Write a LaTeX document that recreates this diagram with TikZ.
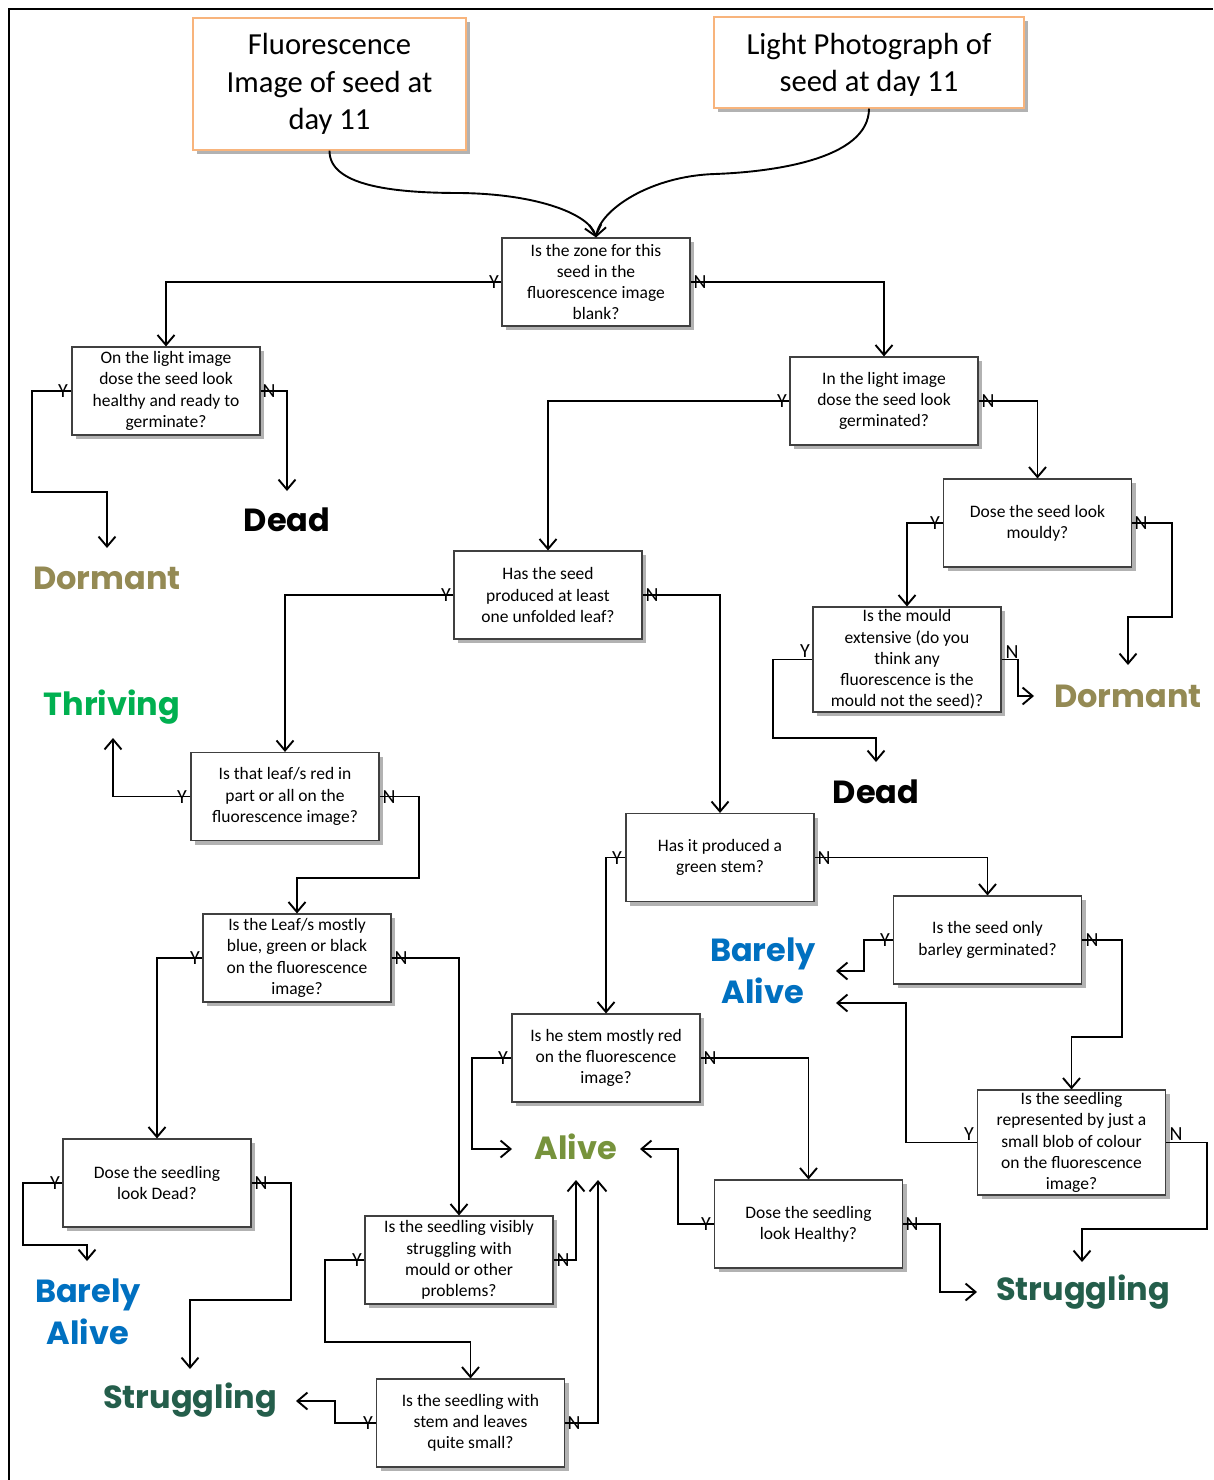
\documentclass[tikz,border=0pt]{standalone}
\usepackage{fontspec}
\setmainfont{Carlito}
\newfontfamily\outfont{Poppins}
\usetikzlibrary{arrows.meta,shadows}
\definecolor{cDorm}{HTML}{948A54}
\definecolor{cThr}{HTML}{00B050}
\definecolor{cBar}{HTML}{0070C0}
\definecolor{cAlive}{HTML}{77933C}
\definecolor{cStrug}{HTML}{245E4B}
\definecolor{cTop}{HTML}{F8B47C}
\begin{document}
\begin{tikzpicture}[x=1pt,y=-1pt,
  q/.style={draw=black!75, line width=1.1pt, fill=white, minimum width=188pt, minimum height=88pt, inner sep=0pt, align=center,
    font=\fontsize{17.5}{21.3}\selectfont,
    drop shadow={shadow xshift=4pt, shadow yshift=-4pt, opacity=0.3, fill=black}},
  topbox/.style={draw=cTop, line width=1.1pt, fill=white, inner sep=0pt, align=center,
    font=\fontsize{30.6}{37.5}\selectfont,
    drop shadow={shadow xshift=4pt, shadow yshift=-4pt, opacity=0.3, fill=black}},
  outc/.style={font=\outfont\bfseries\fontsize{32}{42}\selectfont, align=center, inner sep=0pt},
  arr/.style={line width=1.9pt, -{Straight Barb[length=10pt,width=17pt]}},
  yn/.style={font=\fontsize{20}{20}\selectfont, inner sep=0pt}
]
\useasboundingbox (0,0) rectangle (1213,1480);
\fill[white] (0,0) rectangle (1213,1480);
\draw[line width=1.8pt] (9,1480) -- (9,9) -- (1213,9);

% top boxes
\node[topbox, minimum width=273pt, minimum height=132pt] (fluor) at (329.5,84) {Fluorescence\\Image of seed at\\day 11};
\node[topbox, minimum width=310pt, minimum height=91pt] (light) at (869,62.5) {\rule{0pt}{26pt}Light Photograph of\\seed at day 11};

% question boxes
\node[q] (zone) at (596,282) {Is the zone for this\\seed in the\\fluorescence image\\blank?};
\node[q] (onl) at (166,391) {On the light image\\dose the seed look\\healthy and ready to\\germinate?};
\node[q] (inl) at (884,401) {In the light image\\dose the seed look\\germinated?};
\node[q] (mouldy) at (1037.5,523) {Dose the seed look\\mouldy?};
\node[q, minimum height=105pt] (mext) at (907,659.5) {Is the mould\\extensive (do you\\think any\\fluorescence is the\\mould not the seed)?};
\node[q] (hasseed) at (548,595) {Has the seed\\produced at least\\one unfolded leaf?};
\node[q] (leafred) at (285,796.5) {Is that leaf/s red in\\part or all on the\\fluorescence image?};
\node[q] (leafblue) at (297,958) {Is the Leaf/s mostly\\blue, green or black\\on the fluorescence\\image?};
\node[q] (stem) at (720,857.5) {Has it produced a\\green stem?};
\node[q] (barley) at (987.5,940) {Is the seed only\\barley germinated?};
\node[q] (stemred) at (606,1058) {Is he stem mostly red\\on the fluorescence\\image?};
\node[q, minimum height=105pt] (repr) at (1071.5,1142.5) {Is the seedling\\represented by just a\\small blob of colour\\on the fluorescence\\image?};
\node[q] (healthy) at (808.5,1224) {Dose the seedling\\look Healthy?};
\node[q] (lookdead) at (157,1183) {Dose the seedling\\look Dead?};
\node[q] (visibly) at (459,1260) {Is the seedling visibly\\struggling with\\mould or other\\problems?};
\node[q] (small) at (470.5,1423) {Is the seedling with\\stem and leaves\\quite small?};

% outcomes
\node[outc] (deadL) at (287,520) {Dead};
\node[outc, text=cDorm] (dormL) at (107,578) {Dormant};
\node[outc, text=cThr] (thriv) at (112,707) {Thriving};
\node[outc, text=cDorm] (dormR) at (1128,696) {Dormant};
\node[outc] (deadR) at (876,792) {Dead};
\node[outc, text=cBar] (barM) at (763,971) {Barely\\Alive};
\node[outc, text=cAlive] (alive) at (576,1147) {Alive};
\node[outc, text=cStrug] (strugR) at (1083,1292) {Struggling};
\node[outc, text=cBar] (barL) at (88,1312) {Barely\\Alive};
\node[outc, text=cStrug] (strugL) at (190,1400) {Struggling};

% arrow tip coordinates
\coordinate (tDormL) at (107,548);
\coordinate (tDeadL) at (287,491);
\coordinate (tDormR) at (1128,665);
\coordinate (tDeadR) at (876,762);
\coordinate (tDormR2) at (1034,696);
\coordinate (tThriv) at (113,738);
\coordinate (tBarM1) at (836,971);
\coordinate (tBarM2) at (836,1003);
\coordinate (tAlive1) at (512,1149);
\coordinate (tAlive2) at (640,1149);
\coordinate (tAlive3) at (576,1180);
\coordinate (tAlive4) at (598,1180);
\coordinate (tStrugR1) at (1082,1262);
\coordinate (tStrugR2) at (977,1292);
\coordinate (tBarL) at (87,1261);
\coordinate (tStrugL1) at (190,1369);
\coordinate (tStrugL2) at (296,1401);

% curves from top boxes
\draw[arr] (fluor.south) .. controls (329,185) and (390,193) .. (460,193) .. controls (540,194) and (590,215) .. (zone.north);
\draw[arr] (light.south) .. controls (869,160) and (770,172) .. (715,174) .. controls (650,176) and (600,210) .. (zone.north);

% connectors
\draw[arr] (zone.west) -| (onl.north);
\draw[arr] (zone.east) -| (inl.north);
\draw[arr] (onl.west) -- (32,391) -- (32,492) -- (107,492) -- (tDormL);
\draw[arr] (onl.east) -| (tDeadL);
\draw[arr] (inl.west) -| (hasseed.north);
\draw[arr] (inl.east) -| (mouldy.north);
\draw[arr] (mouldy.west) -| (mext.north);
\draw[arr] (mouldy.east) -- (1172,523) -- (1172,617) -- (1128,617) -- (tDormR);
\draw[arr] (mext.west) -- (773,659.5) -- (773,738) -- (876,738) -- (tDeadR);
\draw[arr] (mext.east) -- (1018,659.5) -- (1018,696) -- (tDormR2);
\draw[arr] (hasseed.west) -| (leafred.north);
\draw[arr] (hasseed.east) -| (stem.north);
\draw[arr] (leafred.west) -| (tThriv);
\draw[arr] (leafred.east) -- (419,796.5) -- (419,878) -- (297,878) -- (leafblue.north);
\draw[arr] (leafblue.west) -| (lookdead.north);
\draw[arr] (leafblue.east) -| (visibly.north);
\draw[arr] (stem.west) -| (stemred.north);
\draw[arr] (stem.east) -| (barley.north);
\draw[arr] (barley.west) -- (864,940) -- (864,971) -- (tBarM1);
\draw[arr] (barley.east) -- (1122,940) -- (1122,1037) -- (1071.5,1037) -- (repr.north);
\draw[arr] (stemred.west) -- (472,1058) -- (472,1149) -- (tAlive1);
\draw[arr] (stemred.east) -| (healthy.north);
\draw[arr] (repr.west) -- (906,1142.5) -- (906,1003) -- (tBarM2);
\draw[arr] (repr.east) -- (1207,1142.5) -- (1207,1229) -- (1082,1229) -- (tStrugR1);
\draw[arr] (healthy.west) -- (678,1224) -- (678,1149) -- (tAlive2);
\draw[arr] (healthy.east) -- (940,1224) -- (940,1292) -- (tStrugR2);
\draw[arr] (lookdead.west) -- (23,1183) -- (23,1245) -- (87,1245) -- (tBarL);
\draw[arr] (lookdead.east) -- (291,1183) -- (291,1300) -- (190,1300) -- (tStrugL1);
\draw[arr] (visibly.west) -- (325,1260) -- (325,1342) -- (470.5,1342) -- (small.north);
\draw[arr] (visibly.east) -| (tAlive3);
\draw[arr] (small.west) -- (335,1423) -- (335,1401) -- (tStrugL2);
\draw[arr] (small.east) -| (tAlive4);

% Y / N labels
\node[yn] (zY) at (494,282) {Y};   \node[yn] (zN) at (700,282) {N};
\node[yn] (oY) at (63,391) {Y};    \node[yn] (oN) at (269,391) {N};
\node[yn] (iY) at (782,401) {Y};   \node[yn] (iN) at (988,401) {N};
\node[yn] (mY) at (935,523) {Y};   \node[yn] (mN) at (1141,523) {N};
\node[yn] (eY) at (805,651) {Y};   \node[yn] (eN) at (1012,652) {N};
\node[yn] (hY) at (446,595) {Y};   \node[yn] (hN) at (652,595) {N};
\node[yn] (lrY) at (182,797) {Y};  \node[yn] (lrN) at (389,797) {N};
\node[yn] (lbY) at (195,958) {Y};  \node[yn] (lbN) at (401,958) {N};
\node[yn] (sY) at (617,858) {Y};   \node[yn] (sN) at (824,858) {N};
\node[yn] (bY) at (885,940) {Y};   \node[yn] (bN) at (1092,940) {N};
\node[yn] (srY) at (503,1058) {Y}; \node[yn] (srN) at (710,1058) {N};
\node[yn] (rY) at (969,1134) {Y};  \node[yn] (rN) at (1176,1134) {N};
\node[yn] (heY) at (706,1224) {Y}; \node[yn] (heN) at (912,1224) {N};
\node[yn] (ldY) at (55,1183) {Y};  \node[yn] (ldN) at (261,1183) {N};
\node[yn] (vY) at (357,1260) {Y};  \node[yn] (vN) at (563,1260) {N};
\node[yn] (smY) at (368,1423) {Y}; \node[yn] (smN) at (574,1423) {N};
\end{tikzpicture}
\end{document}
